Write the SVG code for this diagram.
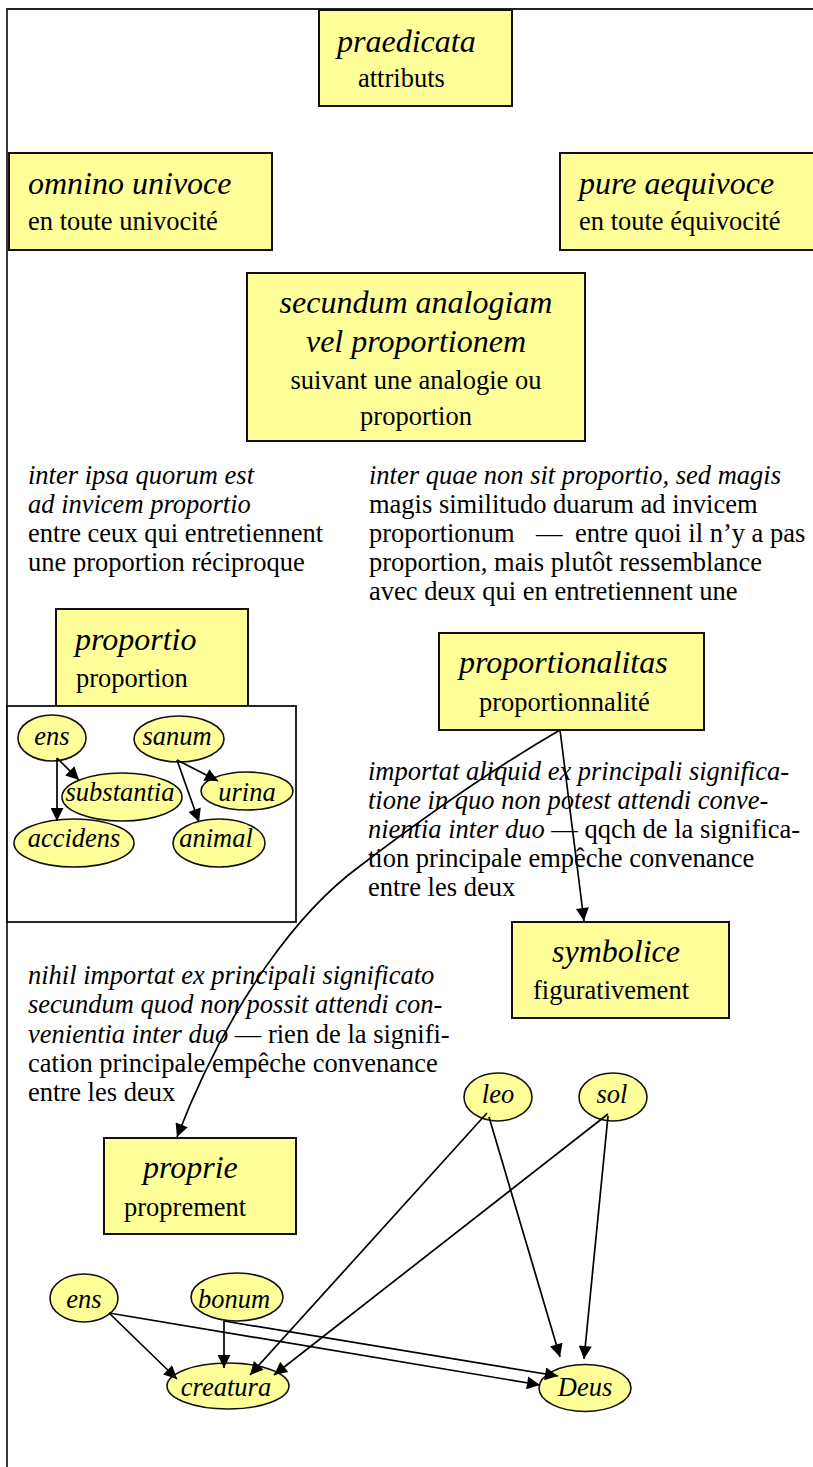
<svg xmlns="http://www.w3.org/2000/svg" width="813" height="1467" viewBox="0 0 813 1467">
  <style>
    text { font-family: "Liberation Serif", "Times New Roman", serif; fill: #000; }
    .t { font-size: 32px; font-style: italic; }
    .s { font-size: 26.5px; }
    .i { font-style: italic; }
    .box { fill: #ffff99; stroke: #111; stroke-width: 2; }
    .ell { fill: #ffff99; stroke: #111; stroke-width: 1.6; }
    .frame { fill: none; stroke: #222; stroke-width: 1.8; }
    .edge { fill: none; stroke: #000; stroke-width: 1.7; marker-end: url(#arrow); }
  </style>
  <defs>
    <marker id="arrow" viewBox="0 0 10 10" refX="10" refY="5" markerUnits="userSpaceOnUse" markerWidth="15" markerHeight="13" orient="auto">
      <path d="M0,0 L10,5 L0,10 z" fill="#000"/>
    </marker>
  </defs>

  <rect width="813" height="1467" fill="#fff"/>

  <!-- outer frame: top and left rules -->
  <path class="frame" d="M7,1467 V9 H813"/>

  <!-- top node -->
  <g id="praedicata">
    <rect class="box" x="319" y="10" width="193" height="96"/>
    <text class="t" x="337" y="52">praedicata</text>
    <text class="s" x="358" y="87">attributs</text>
  </g>

  <g id="omnino-univoce">
    <rect class="box" x="9" y="153" width="263" height="97"/>
    <text class="t" x="28" y="194">omnino univoce</text>
    <text class="s" x="28" y="230">en toute univocité</text>
  </g>

  <g id="pure-aequivoce">
    <rect class="box" x="560" y="153" width="300" height="97"/>
    <text class="t" x="579" y="194">pure aequivoce</text>
    <text class="s" x="579" y="230">en toute équivocité</text>
  </g>

  <g id="secundum-analogiam">
    <rect class="box" x="247" y="273" width="338" height="168"/>
    <text class="t" x="416" y="313" text-anchor="middle">secundum analogiam</text>
    <text class="t" x="416" y="352" text-anchor="middle">vel proportionem</text>
    <text class="s" x="416" y="389" text-anchor="middle">suivant une analogie ou</text>
    <text class="s" x="416" y="425" text-anchor="middle">proportion</text>
  </g>

  <!-- explanatory paragraphs -->
  <g id="note-proportio">
    <text class="s i" x="28" y="484">inter ipsa quorum est</text>
    <text class="s i" x="28" y="513">ad invicem proportio</text>
    <text class="s" x="28" y="542">entre ceux qui entretiennent</text>
    <text class="s" x="28" y="571">une proportion réciproque</text>
  </g>

  <g id="note-proportionalitas">
    <text class="s i" x="369" y="484">inter quae non sit proportio, sed magis</text>
    <text class="s" x="369" y="513">magis similitudo duarum ad invicem</text>
    <text class="s" y="542"><tspan x="369">proportionum</tspan><tspan x="536">—</tspan><tspan x="575">entre quoi il n’y a pas</tspan></text>
    <text class="s" x="369" y="571">proportion, mais plutôt ressemblance</text>
    <text class="s" x="369" y="600">avec deux qui en entretiennent une</text>
  </g>

  <g id="proportio">
    <rect class="box" x="56" y="609" width="192" height="97"/>
    <text class="t" x="75" y="650">proportio</text>
    <text class="s" x="76" y="687">proportion</text>
  </g>

  <!-- examples of proportio -->
  <g id="proportio-examples">
    <rect x="7" y="706" width="289" height="216" fill="#fff" stroke="#111" stroke-width="1.8"/>
    <g id="ex-ens">
      <ellipse class="ell" cx="52" cy="738" rx="34" ry="23"/>
      <text class="s i" x="52" y="745" text-anchor="middle">ens</text>
    </g>
    <g id="ex-sanum">
      <ellipse class="ell" cx="179" cy="739" rx="45" ry="23"/>
      <text class="s i" x="177" y="745" text-anchor="middle">sanum</text>
    </g>
    <g id="ex-substantia">
      <ellipse class="ell" cx="122" cy="797" rx="60" ry="24"/>
      <text class="s i" x="120" y="801" text-anchor="middle">substantia</text>
    </g>
    <g id="ex-urina">
      <ellipse class="ell" cx="247" cy="791" rx="46" ry="19"/>
      <text class="s i" x="247" y="801" text-anchor="middle">urina</text>
    </g>
    <g id="ex-accidens">
      <ellipse class="ell" cx="74" cy="843" rx="60" ry="24"/>
      <text class="s i" x="74" y="847" text-anchor="middle">accidens</text>
    </g>
    <g id="ex-animal">
      <ellipse class="ell" cx="219" cy="843" rx="46" ry="24"/>
      <text class="s i" x="216" y="847" text-anchor="middle">animal</text>
    </g>
  </g>

  <g id="proportionalitas">
    <rect class="box" x="439" y="633" width="265" height="97"/>
    <text class="t" x="459" y="673">proportionalitas</text>
    <text class="s" x="479" y="711">proportionnalité</text>
  </g>

  <g id="note-symbolice">
    <text class="s i" x="368" y="780">importat aliquid ex principali significa-</text>
    <text class="s i" x="368" y="809">tione in quo non potest attendi conve-</text>
    <text class="s" x="368" y="838"><tspan class="i">nientia inter duo</tspan> — qqch de la significa-</text>
    <text class="s" x="368" y="867">tion principale empêche convenance</text>
    <text class="s" x="368" y="896">entre les deux</text>
  </g>

  <g id="symbolice">
    <rect class="box" x="512" y="922" width="217" height="96"/>
    <text class="t" x="552" y="962">symbolice</text>
    <text class="s" x="533" y="999">figurativement</text>
  </g>

  <g id="note-proprie">
    <text class="s i" x="28" y="984">nihil importat ex principali significato</text>
    <text class="s i" x="28" y="1013">secundum quod non possit attendi con-</text>
    <text class="s" x="28" y="1043"><tspan class="i">venientia inter duo</tspan> — rien de la signifi-</text>
    <text class="s" x="28" y="1072">cation principale empêche convenance</text>
    <text class="s" x="28" y="1101">entre les deux</text>
  </g>

  <g id="proprie">
    <rect class="box" x="104" y="1138" width="192" height="96"/>
    <text class="t" x="143" y="1178">proprie</text>
    <text class="s" x="124" y="1216">proprement</text>
  </g>

  <!-- lower graph: names said of creature and God -->
  <g id="leo">
    <ellipse class="ell" cx="498" cy="1097" rx="34" ry="24"/>
    <text class="s i" x="498" y="1103" text-anchor="middle">leo</text>
  </g>
  <g id="sol">
    <ellipse class="ell" cx="613" cy="1097" rx="34" ry="24"/>
    <text class="s i" x="612" y="1103" text-anchor="middle">sol</text>
  </g>
  <g id="ens">
    <ellipse class="ell" cx="84" cy="1298" rx="34" ry="24"/>
    <text class="s i" x="84" y="1308" text-anchor="middle">ens</text>
  </g>
  <g id="bonum">
    <ellipse class="ell" cx="237" cy="1297" rx="46" ry="24"/>
    <text class="s i" x="234" y="1308" text-anchor="middle">bonum</text>
  </g>
  <g id="creatura">
    <ellipse class="ell" cx="228" cy="1386" rx="61" ry="23"/>
    <text class="s i" x="226" y="1396" text-anchor="middle">creatura</text>
  </g>
  <g id="Deus">
    <ellipse class="ell" cx="585" cy="1388" rx="46" ry="23.5"/>
    <text class="s i" x="585" y="1396" text-anchor="middle">Deus</text>
  </g>

  <!-- connectors -->
  <g id="connectors">
    <path class="edge" d="M57,758 L79,780"/>
    <path class="edge" d="M57,758 L57,821"/>
    <path class="edge" d="M177,760 L218,781"/>
    <path class="edge" d="M177,760 L199,822"/>

    <path class="edge" d="M560,730 L584,921"/>
    <path class="edge" d="M560,730 Q470,782 360,866 C300,910 230,1000 177,1137"/>

    <path class="edge" d="M487,1113 L250,1375"/>
    <path class="edge" d="M489,1117 L560,1357"/>
    <path class="edge" d="M608,1114 L274,1375"/>
    <path class="edge" d="M608,1116 L584,1359"/>
    <path class="edge" d="M109,1313 L177,1379"/>
    <path class="edge" d="M109,1313 L540,1385"/>
    <path class="edge" d="M224,1321 L224,1368"/>
    <path class="edge" d="M224,1321 L558,1376"/>
  </g>
</svg>
